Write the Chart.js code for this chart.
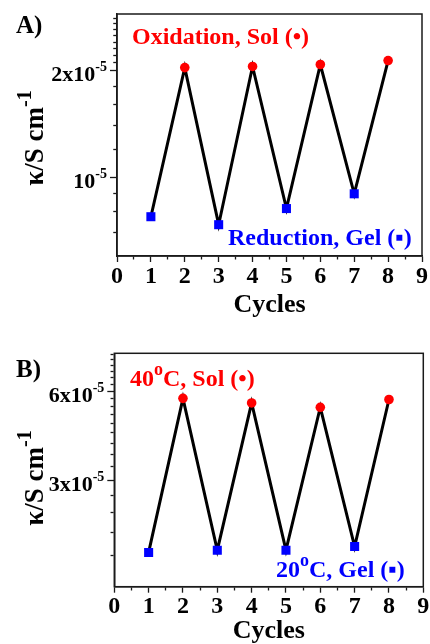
<!DOCTYPE html>
<html>
<head>
<meta charset="utf-8">
<script src="https://cdn.jsdelivr.net/npm/chart.js@4.4.1/dist/chart.umd.min.js"></script>
<style>
  html, body { margin: 0; padding: 0; background: #fff; }
  .panel { width: 430px; height: 322px; }
  canvas { display: block; }
</style>
</head>
<body>
<div class="panel"><canvas id="chartA" width="430" height="322"></canvas></div>
<div class="panel"><canvas id="chartB" width="430" height="322"></canvas></div>
<script>
// ---- data ----
const cycles = [1, 2, 3, 4, 5, 6, 7, 8];
const phase = ['gel', 'sol', 'gel', 'sol', 'gel', 'sol', 'gel', 'sol'];
const kappaA = [7.74e-6, 2.035e-5, 7.35e-6, 2.05e-5, 8.16e-6, 2.076e-5, 8.98e-6, 2.13e-5];
const kappaB = [1.71e-5, 5.67e-5, 1.74e-5, 5.47e-5, 1.74e-5, 5.29e-5, 1.79e-5, 5.62e-5];

const xTicks = [0, 1, 2, 3, 4, 5, 6, 7, 8, 9];
const xMinor = [0.5, 1.5, 2.5, 3.5, 4.5, 5.5, 6.5, 7.5, 8.5];

const yMajorA = [1e-5, 2e-5];
const yLabelsA = ['10^-5', '2x10^-5'];
const yMinorA = [7e-6, 8e-6, 9e-6, 1.2e-5, 1.4e-5, 1.6e-5, 1.8e-5,
  2.1e-5, 2.2e-5, 2.3e-5, 2.4e-5, 2.5e-5, 2.6e-5, 2.7e-5, 2.8e-5];

const yMajorB = [3e-5, 6e-5];
const yLabelsB = ['3x10^-5', '6x10^-5'];
const yMinorB = [1.667e-5, 2e-5, 2.333e-5, 2.667e-5, 3.333e-5, 3.667e-5, 4e-5,
  4.333e-5, 4.667e-5, 5e-5, 5.333e-5, 5.667e-5, 6.333e-5, 6.667e-5, 7e-5,
  7.333e-5, 7.667e-5, 8e-5];

const SERIF = "'Liberation Serif', 'Times New Roman', serif";
const AXIS = '#1a1a1a';

// text with optional superscript pieces, left to right from (x, y)
function richText(ctx, x, y, parts, size, color) {
  ctx.fillStyle = color;
  ctx.textAlign = 'left';
  ctx.textBaseline = 'alphabetic';
  parts.forEach(([t, sup]) => {
    const s = sup ? Math.round(size * 0.75) : size;
    ctx.font = 'bold ' + s + 'px ' + SERIF;
    ctx.fillText(t, x, sup ? y - size * 0.45 : y);
    x += ctx.measureText(t).width;
  });
}

function richWidth(ctx, parts, size) {
  let w = 0;
  parts.forEach(([t, sup]) => {
    ctx.font = 'bold ' + (sup ? Math.round(size * 0.75) : size) + 'px ' + SERIF;
    w += ctx.measureText(t).width;
  });
  return w;
}

const panelDecor = {
  id: 'panelDecor',
  beforeDatasetsDraw(chart) {
    const a = chart.chartArea, ctx = chart.ctx;
    ctx.save();
    ctx.strokeStyle = AXIS;
    ctx.lineWidth = 1.5;
    ctx.strokeRect(a.left, a.top, a.right - a.left, a.bottom - a.top);
    ctx.restore();
  },
  afterDraw(chart, args, o) {
    const ctx = chart.ctx, a = chart.chartArea, ys = chart.scales.y;
    ctx.save();
    richText(ctx, 16, o.letterY, [[o.letter, false]], 25, '#000');

    // y tick labels with exponent
    o.majors.forEach((v, i) => {
      const [mant, exp] = o.labels[i].split('^');
      const py = ys.getPixelForValue(v);
      const right = a.left - 10;
      ctx.fillStyle = '#000';
      ctx.textAlign = 'right';
      ctx.textBaseline = 'alphabetic';
      ctx.font = 'bold 14px ' + SERIF;
      ctx.fillText(exp, right, py + 1);
      const ew = ctx.measureText(exp).width;
      ctx.font = 'bold 22px ' + SERIF;
      ctx.fillText(mant, right - ew, py + 10.5);
    });

    // y axis title, rotated
    const tParts = [['\u03BA/S cm', false], ['-1', true]];
    const tw = richWidth(ctx, tParts, 27);
    ctx.translate(43, o.titleMid);
    ctx.rotate(-Math.PI / 2);
    richText(ctx, -tw / 2, 0, tParts, 27, '#000');
    ctx.setTransform(1, 0, 0, 1, 0, 0);

    o.notes.forEach(n => richText(ctx, n.x, n.y, n.parts, 24, n.color));
    ctx.restore();
  }
};

function makePanel(id, kappa, yRange, majors, minors, labels, geom, decor) {
  const yTickVals = majors.concat(minors).sort((p, q) => p - q);
  const xTickVals = xTicks.concat(xMinor).sort((p, q) => p - q);
  return new Chart(document.getElementById(id), {
    type: 'line',
    data: {
      datasets: [{
        data: cycles.map((c, i) => ({ x: c, y: kappa[i] })),
        borderColor: '#000',
        borderWidth: 3,
        tension: 0,
        pointStyle: phase.map(p => p === 'sol' ? 'circle' : 'rect'),
        pointRadius: phase.map(p => p === 'sol' ? 4.8 : 6.4),
        pointBackgroundColor: phase.map(p => p === 'sol' ? '#ff0000' : '#0000ff'),
        pointBorderWidth: 0,
        pointHoverRadius: 0
      }]
    },
    options: {
      responsive: false,
      animation: false,
      events: [],
      layout: { padding: { left: 0, right: geom.right, top: geom.top, bottom: 0 } },
      plugins: {
        legend: { display: false },
        tooltip: { enabled: false },
        panelDecor: decor
      },
      scales: {
        x: {
          type: 'linear',
          position: 'bottom',
          min: 0,
          max: 9,
          afterBuildTicks: s => { s.ticks = xTickVals.map(v => ({ value: v })); },
          afterFit: s => { s.height = geom.xh; },
          grid: {
            drawOnChartArea: false,
            tickLength: 6,
            tickColor: AXIS,
            tickWidth: 1.3,
            tickBorderDash: c => (c.tick && xTicks.includes(c.tick.value)) ? [] : [3, 100],
            tickBorderDashOffset: 0
          },
          border: { color: AXIS, width: 1.5 },
          ticks: {
            autoSkip: false,
            maxRotation: 0,
            padding: 0,
            color: '#000',
            font: { family: SERIF, size: 24, weight: 'bold' },
            callback: v => xTicks.includes(v) ? String(v) : ''
          },
          title: {
            display: true,
            text: 'Cycles',
            color: '#000',
            font: { family: SERIF, size: 26, weight: 'bold', lineHeight: 1 },
            padding: { top: 0, bottom: geom.titlePad }
          }
        },
        y: {
          type: 'logarithmic',
          position: 'left',
          min: yRange[0],
          max: yRange[1],
          afterBuildTicks: s => { s.ticks = yTickVals.map(v => ({ value: v })); },
          afterFit: s => { s.width = geom.left; },
          grid: {
            drawOnChartArea: false,
            tickLength: 7,
            tickColor: AXIS,
            tickWidth: 1.3,
            tickBorderDash: c => (c.tick && majors.includes(c.tick.value)) ? [] : [3, 100],
            tickBorderDashOffset: c => (c.tick && majors.includes(c.tick.value)) ? 0 : 99.75
          },
          border: { color: AXIS, width: 1.5 },
          ticks: { display: false }
        }
      }
    },
    plugins: [panelDecor]
  });
}

makePanel('chartA', kappaA, [6e-6, 2.88e-5], yMajorA, yMinorA, yLabelsA,
  { left: 117, right: 8, top: 14, xh: 66, titlePad: 4 },
  {
    letter: 'A)', letterY: 33, majors: yMajorA, labels: yLabelsA, titleMid: 138,
    notes: [
      { x: 132, y: 44, color: '#ff0000', parts: [['Oxidation, Sol (\u2022)', false]] },
      { x: 228, y: 245, color: '#0000ff', parts: [['Reduction, Gel (\u25AA)', false]] }
    ]
  });

makePanel('chartB', kappaB, [1.31e-5, 8.05e-5], yMajorB, yMinorB, yLabelsB,
  { left: 114.3, right: 6.7, top: 31.3, xh: 57.3, titlePad: 0 },
  {
    letter: 'B)', letterY: 55, majors: yMajorB, labels: yLabelsB, titleMid: 156,
    notes: [
      { x: 130, y: 64, color: '#ff0000', parts: [['40', false], ['o', true], ['C, Sol (\u2022)', false]] },
      { x: 276, y: 255, color: '#0000ff', parts: [['20', false], ['o', true], ['C, Gel (\u25AA)', false]] }
    ]
  });
</script>
</body>
</html>
